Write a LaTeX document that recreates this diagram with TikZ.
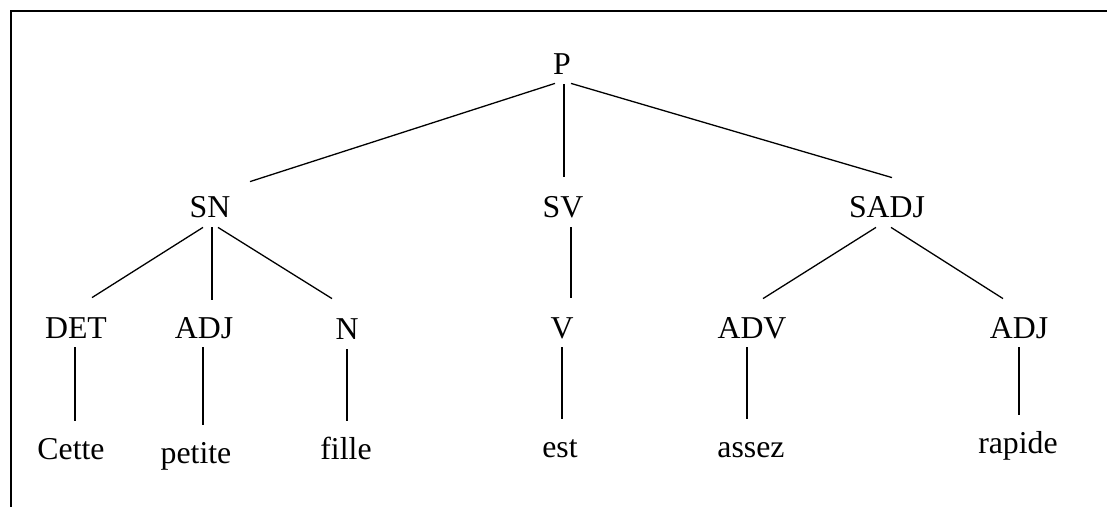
\documentclass[tikz,border=0pt]{standalone}
\usepackage{fontspec}
\setmainfont{Liberation Serif}
\usepackage{tikz}
\usetikzlibrary{calc}
\tikzset{
  cat/.style={inner sep=0pt,anchor=base,text height=20pt,text depth=4.5pt,
    font=\fontsize{15.9}{19}\selectfont},
  word/.style={inner sep=0pt,anchor=base,text height=19pt,text depth=0pt,
    font=\fontsize{15.9}{19}\selectfont},
  branch/.style={line width=0.65pt},
  frame/.style={line width=1pt},
}

\begin{document}
\begin{tikzpicture}[x=0.5pt,y=-0.5pt]
                \useasboundingbox (0,0) rectangle (1107,507);
                % frame
                \draw[frame] (1107,11) -- (11,11) -- (11,507);
                % categories
                \node[cat] (p) at (562,75) {P};
                \node[cat] (sn) at (210,218) {SN};
                \node[cat] (sv) at (563,218) {SV};
                \node[cat] (sadj) at (887,218) {SADJ};
                \node[cat] (det) at (76,338) {DET};
                \node[cat] (adja) at (204,338) {ADJ};
                \node[cat] (n) at (347,340) {N};
                \node[cat] (v) at (562,338) {V};
                \node[cat] (adv) at (752,338) {ADV};
                \node[cat] (adjb) at (1019,338) {ADJ};
                % words
                \node[word] (cette) at (71,459) {Cette};
                \node[word] (petite) at (196,463) {petite};
                \node[word] (fille) at (346,459) {fille};
                \node[word] (est) at (560,457) {est};
                \node[word] (assez) at (751,457) {assez};
                \node[word] (rapide) at (1018,453) {rapide};
                % branches
                \draw[branch] ($(p.south)+(-7,-1)$) -- ($(sn.north)+(40,4)$);
                \draw[branch] ($(p.south)+(2,0)$) -- ($(sv.north)+(1,-1)$);
                \draw[branch] ($(p.south)+(9,-1)$) -- ($(sadj.north)+(5,0)$);
                \draw[branch] ($(sn.south)+(-7,0)$) -- ($(det.north)+(16,0)$);
                \draw[branch] ($(sn.south)+(2,0)$) -- ($(adja.north)+(8,2)$);
                \draw[branch] ($(sn.south)+(8,0)$) -- ($(n.north)+(-15,-1)$);
                \draw[branch] ($(sv.south)+(8,0)$) -- ($(v.north)+(9,0)$);
                \draw[branch] ($(sadj.south)+(-11,0)$) -- ($(adv.north)+(11,1)$);
                \draw[branch] ($(sadj.south)+(4,0)$) -- ($(adjb.north)+(-16,1)$);
                \draw[branch] ($(det.south)+(-1,0)$) -- ($(cette.north)+(4,0)$);
                \draw[branch] ($(adja.south)+(-1,0)$) -- ($(petite.north)+(7,0)$);
                \draw[branch] (n.south) -- ($(fille.north)+(1,0)$);
                \draw[branch] (v.south) -- ($(est.north)+(2,0)$);
                \draw[branch] ($(adv.south)+(-5,0)$) -- ($(assez.north)+(-4,0)$);
                \draw[branch] (adjb.south) -- ($(rapide.north)+(1,0)$);
\end{tikzpicture}
\end{document}
